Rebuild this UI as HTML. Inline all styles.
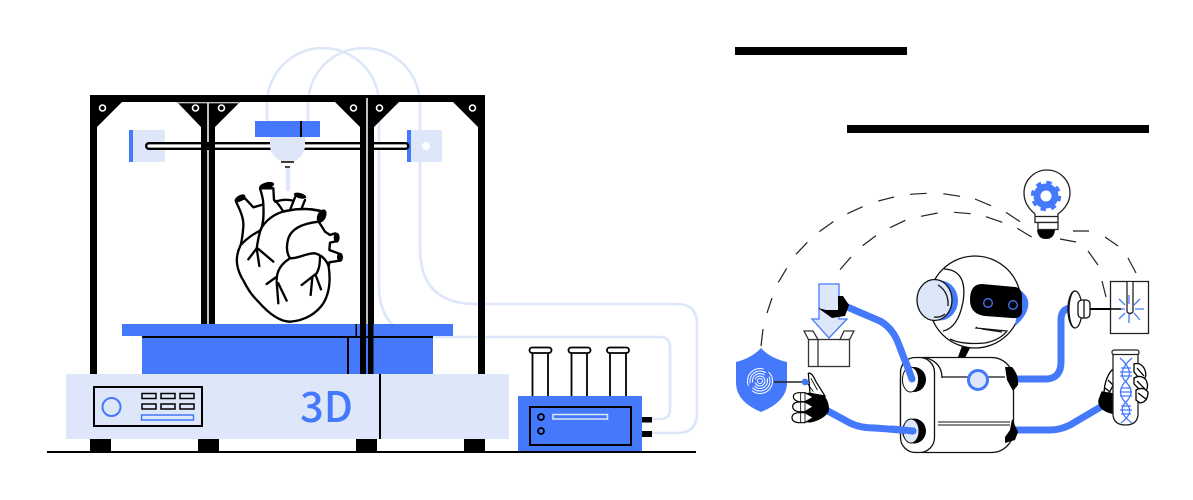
<!DOCTYPE html>
<html><head><meta charset="utf-8">
<style>html,body{margin:0;padding:0;background:#fff;width:1193px;height:500px;overflow:hidden}svg{display:block}</style>
</head><body>
<svg width="1193" height="500" viewBox="0 0 1193 500" xmlns="http://www.w3.org/2000/svg">
<defs>
<style>.l{fill:#dde7f9}.b{fill:#4479fb}.tube{fill:none;stroke:#dde7f9;stroke-width:2.6}.k{fill:none;stroke:#000;stroke-linecap:round;stroke-linejoin:round}</style>
</defs>
<rect width="1193" height="500" fill="#fff"/>
<!-- bars -->
<rect x="735" y="47" width="172" height="8" fill="#000"/>
<rect x="847" y="125" width="302" height="8" fill="#000"/>

<!-- tubes -->
<path class="tube" d="M267 121V104A56 56 0 0 1 379 104V285Q379 337 431 337H660Q670 337 670 347V409Q670 419 660 419H650"/>
<path class="tube" d="M308 121V104A56 56 0 0 1 420 104V248Q420 304 476 304H677Q697 304 697 324V413Q697 433 677 433H650"/>

<!-- frame -->
<path fill="#000" fill-rule="evenodd" d="M90 95H485V374H90ZM97 127V374H201V127L177 102H122ZM215 127V374H360V127L335 102H240ZM374 127V374H478V127L453 102H399Z"/>
<path d="M178 102.700H239" stroke="#fff" stroke-width="1"/>
<g fill="none" stroke="#fff" stroke-width="1.600">
<circle cx="102.500" cy="108" r="3"/><circle cx="195.500" cy="108" r="3"/><circle cx="221.500" cy="108" r="3"/><circle cx="353.500" cy="108" r="3"/><circle cx="379.500" cy="108" r="3"/><circle cx="472.500" cy="108" r="3"/>
</g>

<!-- rod & carriage -->
<rect x="129" y="130" width="36" height="32" class="l"/><rect x="129" y="130" width="4" height="32" class="b"/>
<rect x="407" y="130" width="35" height="32" class="l"/><rect x="407" y="130" width="4" height="32" class="b"/>
<circle cx="426" cy="146" r="4" fill="#fff"/>
<rect x="146.200" y="143.200" width="262" height="5.600" rx="2.800" fill="#fff" stroke="#000" stroke-width="2.400"/>
<rect x="201" y="142" width="14" height="8" fill="#000"/>
<rect x="360" y="142" width="14" height="8" fill="#000"/>
<path d="M208 103V142M208 150V374M367 98V374" stroke="#fff" stroke-width="1.500"/>
<rect x="255" y="121" width="65" height="16" class="b"/>
<rect x="300" y="121" width="2" height="16" fill="#000"/>
<path class="l" d="M270 137H305V145A17.500 17.500 0 0 1 270 145Z"/>
<path d="M281 162H294" stroke="#000" stroke-width="1.500"/><path d="M285 167H290" stroke="#000" stroke-width="1.500"/>
<path d="M288 170V189" stroke="#dde7f9" stroke-width="4.500" stroke-linecap="round"/>

<!-- heart -->
<g transform="translate(220 170) scale(.33333)">
<path fill="#fff" class="k" stroke-width="7" d="M48 95C60 120 72 145 70 170C68 195 66 210 62 225C42 265 50 300 72 335C85 360 95 375 115 395C150 435 180 455 210 455C255 452 290 430 310 400C328 370 332 330 326 290L328 277L358 272L355 250L328 240L330 218L348 214L345 190L330 195L315 185L296 155L305 125C270 115 235 115 205 122L190 125C178 105 170 95 162 90L160 55L120 55C128 80 130 90 130 103L100 112L75 85Z"/>
<path class="k" stroke-width="7" d="M62 225C85 200 105 190 120 182C135 150 165 130 200 122C240 115 270 115 300 122M296 155C250 160 215 175 205 205C198 230 200 250 210 265C240 265 260 248 285 250C305 255 320 270 326 290M210 265C185 280 170 300 170 330M130 103C132 140 130 165 120 185C112 215 112 225 110 235L85 268M110 235L118 288M113 235L160 275M170 320L140 342M170 335L175 400M175 340L200 392M300 258C300 290 295 300 290 310L245 345M277 322L272 375M288 318L303 358M165 95C190 88 200 88 220 92M225 82L210 120M255 90L245 115"/>
<g fill="#000"><ellipse cx="60" cy="85" rx="18" ry="9" transform="rotate(-30 60 85)"/><ellipse cx="140" cy="47" rx="23" ry="10" transform="rotate(-15 140 47)"/><ellipse cx="240" cy="77" rx="19" ry="8" transform="rotate(15 240 77)"/><ellipse cx="305" cy="138" rx="13" ry="21" transform="rotate(25 305 138)"/><ellipse cx="350" cy="203" rx="9" ry="15"/><ellipse cx="360" cy="262" rx="9" ry="14"/></g>
</g>

<!-- platform -->
<rect x="122" y="324" width="331" height="12" class="b"/>
<rect x="142" y="338" width="291" height="36" class="b"/>
<rect x="142" y="336" width="291" height="2" fill="#000"/>
<rect x="347" y="338" width="2" height="36" fill="#000"/>
<rect x="355.500" y="324" width="1.500" height="12" fill="#000"/>
<rect x="360" y="320" width="6" height="54" fill="#000"/><rect x="368" y="320" width="5.500" height="54" fill="#000"/>

<!-- base -->
<rect x="66" y="374" width="443" height="65" class="l"/>
<rect x="379" y="374" width="2" height="65" fill="#000"/>
<rect x="94" y="387" width="108" height="39" fill="none" stroke="#000" stroke-width="2"/>
<circle cx="111.500" cy="407" r="9" fill="none" stroke="#4479fb" stroke-width="2"/>
<g fill="none" stroke="#000" stroke-width="1.500">
<rect x="142" y="393.500" width="14" height="5"/><rect x="161" y="393.500" width="14" height="5"/><rect x="180" y="393.500" width="14" height="5"/>
<rect x="142" y="404" width="14" height="5"/><rect x="161" y="404" width="14" height="5"/><rect x="180" y="404" width="14" height="5"/>
</g>
<rect x="141.500" y="415" width="52" height="5" fill="none" stroke="#4479fb" stroke-width="1.500"/>
<text x="300" y="422" font-family="'Noto Sans CJK SC','Liberation Sans',sans-serif" font-size="42" font-weight="500" fill="#4479fb" textLength="53" lengthAdjust="spacingAndGlyphs">3D</text>
<rect x="90" y="439" width="21" height="12" fill="#000"/><rect x="198" y="439" width="21" height="12" fill="#000"/><rect x="356" y="439" width="21" height="12" fill="#000"/><rect x="464" y="439" width="21" height="12" fill="#000"/>
<rect x="47" y="451" width="649" height="2" fill="#000"/>

<!-- device -->
<g fill="#fff" stroke="#000" stroke-width="1.800">
<path d="M532.500 396V352H548V396"/><path d="M571.500 396V352H587V396"/><path d="M610 396V352H626V396"/>
<rect x="529.500" y="347.500" width="22" height="5.500" rx="2.700"/><rect x="568.500" y="347.500" width="22" height="5.500" rx="2.700"/><rect x="607" y="347.500" width="22" height="5.500" rx="2.700"/>
</g>
<rect x="518" y="396" width="124" height="55" class="b"/>
<rect x="530" y="407" width="101" height="38" fill="none" stroke="#000" stroke-width="2"/>
<g fill="none" stroke="#000" stroke-width="1.800"><circle cx="541" cy="417" r="3"/><circle cx="541" cy="431" r="3"/></g>
<rect x="553" y="414.500" width="54.500" height="4.500" fill="none" stroke="#dde7f9" stroke-width="1.500"/>
<rect x="642" y="417" width="10" height="5.500" fill="#000"/><rect x="642" y="431" width="10" height="6" fill="#000"/>

<!-- dashed arcs -->
<g transform="translate(750 175) scale(.33333)" stroke="#222" stroke-width="3.600" fill="none">
<path d="M85 322L110 280M138 238L172 202M208 170L250 140M292 116L338 95M385 78L432 66M480 58L530 55M580 56L630 64M675 72L723 92M768 112L810 140"/>
<path d="M270 284L303 246M338 212L378 182M420 158L466 136M513 124L563 114M612 112L662 116M708 125L757 142M802 160L845 186"/>
</g>
<path d="M761 346L763 329M767 313L772 298M1073 231L1089 231M1105 237L1118 246M1128 258L1136 273M1060 239L1076 242M1088 251L1098 265M1102 281L1106 297" stroke="#222" stroke-width="1.200" fill="none"/>

<!-- bulb -->
<path d="M1035 216V214Q1024 205 1024 193A23 23 0 0 1 1070 193Q1070 205 1058 214V216" fill="#fff" stroke="#222" stroke-width="1.300"/>
<rect x="1035" y="216.500" width="23" height="6" fill="#fff" stroke="#222" stroke-width="1.300"/>
<rect x="1038" y="222.500" width="20" height="7" fill="#fff" stroke="#222" stroke-width="1.300"/>
<path d="M1037 230H1055Q1054 239 1046 239T1037 230Z" fill="#000"/>
<circle cx="1046" cy="196" r="9" fill="none" stroke="#4479fb" stroke-width="7"/>
<circle cx="1046" cy="196" r="13" fill="none" stroke="#4479fb" stroke-width="4.500" stroke-dasharray="5.100 5.110"/>

<!-- box & arrow -->
<g stroke="#333" stroke-width="1.300" fill="#fff">
<rect x="808.500" y="339.500" width="41" height="27"/><path d="M818 340V366M804 331H813L818 339.500H808.500ZM844 331H854L849.500 339.500H840Z"/>
</g>
<path d="M819 284H839V319H847L829 338L812 319H819Z" fill="#dde7f9" stroke="#4479fb" stroke-width="1.300"/>

<!-- arms -->
<g fill="none" stroke="#4479fb" stroke-width="7">
<path d="M845 306L880 321Q893 328 899 345L912 379" stroke-linecap="round"/>
<path d="M826 410L850 423Q860 428 875 428L914 431" stroke-linecap="round"/>
<path d="M1010 379H1045Q1061 379 1061 362V320Q1061 308 1072 308"/>
<path d="M1010 430H1050Q1060 430 1070 425L1104 405"/>
</g>

<!-- top hand -->
<path d="M838 296L843 296L849 305L845 316L838 317L832 318L818 308L826 310L838 310Z" fill="#000"/>

<!-- shield -->
<path d="M761 348Q770 358 787 362V384Q786 402 761 412Q737 402 736 384V362Q752 358 761 348Z" class="b"/>
<g fill="none" stroke="#fff" stroke-width="1">
<circle cx="760" cy="381" r="2.500"/><circle cx="760" cy="381" r="5" stroke-dasharray="14 3"/><circle cx="760" cy="381" r="7.500" stroke-dasharray="18 4"/><circle cx="760" cy="381" r="10" stroke-dasharray="24 5"/><circle cx="760" cy="381" r="12.500" stroke-dasharray="28 6"/>
</g>
<path d="M774 382H804" stroke="#222" stroke-width="1.400"/>

<!-- left hand -->
<g transform="translate(730 340) scale(.33333)">
<path d="M235 100Q245 95 258 125L285 168L240 160Z" fill="#fff" stroke="#000" stroke-width="3.600"/>
<path d="M243 115L262 150M232 130L250 155" stroke="#000" stroke-width="2.500"/>
<path d="M240 158L285 170Q300 190 296 215Q280 240 240 248L215 245V160Z" fill="#000"/>
<g fill="#fff" stroke="#000" stroke-width="3.600">
<path d="M250 171L225 158H205Q190 160 190 170T205 185H225Z"/>
<path d="M250 200L225 186H205Q188 188 188 200T205 215H225Z"/>
<path d="M250 233L225 218H205Q186 220 186 233T205 248H225Z"/>
</g>
<path d="M212 158V185M225 158V185M212 187V215M225 187V215M212 218V248M225 218V248" stroke="#000" stroke-width="2.500"/>
<circle cx="225" cy="126" r="10" fill="#4479fb"/>
</g>

<!-- robot head -->
<g stroke="#111" stroke-width="1.300">
<path d="M958 357L962 346L970 348L965 358Z" fill="#000" stroke="none"/>
<circle cx="975" cy="302" r="46" fill="#fff"/>
<path d="M1020 290Q1030 297 1028 307T1015 326Z" class="b" stroke="none"/>
<path d="M982 284L1015 287Q1023 288 1022 300V312Q1021 319 1012 318L985 316Q970 314 970 300Q970 284 982 284Z" fill="#000" stroke="none"/>
<circle cx="988" cy="303" r="4.300" fill="none" stroke="#4479fb" stroke-width="1.300"/>
<circle cx="1013" cy="305" r="4.300" fill="none" stroke="#4479fb" stroke-width="1.300"/>
<path d="M944 269Q968 270 963 302Q958 328 943 331" fill="none"/>
<path d="M977 327L976 328L1007 331Q1000 340 985 343Q962 345 950 339" fill="none"/>
<path d="M982 329L1002 332" fill="none"/>
<ellipse cx="940" cy="300.500" rx="18" ry="20" class="b" stroke="none"/>
<ellipse cx="934.500" cy="300" rx="17.500" ry="20.500" fill="#dde7f9"/>
<path d="M938 285Q949 292 948 306M945 314Q940 318 934 317" fill="none"/>
</g>

<!-- robot body -->
<rect x="900.500" y="357.500" width="113" height="95" rx="22" fill="#fff" stroke="#111" stroke-width="1.300"/>
<rect x="900.500" y="357.500" width="34" height="95" rx="15" fill="#fff" stroke="#111" stroke-width="1.300"/>
<path d="M925 357.500Q942 362 942 378V377.500V377H1005" fill="none" stroke="#111" stroke-width="1.300"/>
<path d="M938 422H1010M938 425H1010" stroke="#111" stroke-width="1"/>
<path d="M1005 367L1012 367Q1019 375 1018 385L1013 391L1007 380Z" fill="#000"/>
<path d="M1012 419L1018 432L1015 440L1005 443V437L1010 430Z" fill="#000"/>
<circle cx="978" cy="380" r="9.500" fill="#dde7f9" stroke="#4479fb" stroke-width="3"/>
<ellipse cx="914" cy="379.500" rx="12" ry="12.500" fill="#000"/><ellipse cx="910.500" cy="379.500" rx="8" ry="12.500" fill="#fff" stroke="#111" stroke-width="1"/>
<ellipse cx="914" cy="431" rx="12" ry="12.500" fill="#000"/><ellipse cx="911" cy="431" rx="8" ry="12" fill="#dde7f9" stroke="#111" stroke-width="1"/>
<path d="M892 429L913 431" stroke="#4479fb" stroke-width="7" stroke-linecap="round"/>
<path d="M905 360L912 379" stroke="#4479fb" stroke-width="7" stroke-linecap="round"/>

<!-- emitter -->
<g fill="#fff" stroke="#111" stroke-width="1.300">
<ellipse cx="1075" cy="309.500" rx="7" ry="18.500"/>
<path d="M1075 291A6 18.500 0 0 0 1075 328" fill="none"/>
<rect x="1078" y="300" width="12" height="18" rx="4"/>
<path d="M1084 300V318" fill="none"/>
</g>
<path d="M1090 309H1121" stroke="#000" stroke-width="2"/>

<!-- chamber -->
<rect x="1110.500" y="281.500" width="38" height="52" fill="#fff" stroke="#222" stroke-width="1.300"/>
<path d="M1127 282V312Q1130 315 1133 312V282" fill="#fff" stroke="#222" stroke-width="1.300"/>
<path d="M1129 295V304M1129 314V323M1118 309H1125M1135 309H1144M1119 299L1125 305M1140 299L1134 305M1119 319L1125 313M1140 320L1134 313" stroke="#4479fb" stroke-width="1.300"/>
<path d="M1090 309H1121" stroke="#000" stroke-width="1.600"/>

<!-- test tube -->
<g stroke="#000" stroke-width="1.300">
<path d="M1114 368Q1105 376 1104 392L1108 395L1117 378Z" fill="#fff"/>
<path d="M1108 380L1114 386M1105 388L1110 392" fill="none"/>
<path d="M1102 392L1115 394V414L1108 412Q1098 408 1099 400Z" fill="#000"/>
<path d="M1113 353V415Q1114 425 1125.500 425T1138 415V353" fill="#fff" stroke="#222"/>
<rect x="1112" y="350" width="27" height="4.500" rx="2" fill="#fff" stroke="#222"/>
<path d="M1134 364Q1140 362 1144 368Q1147 374 1145 378L1139 378L1134 372Z" fill="#fff"/>
<path d="M1134 378Q1141 374 1146 380Q1149 386 1146 391L1140 390L1134 384Z" fill="#fff"/>
<path d="M1136 390Q1143 386 1148 392Q1148 402 1140 403L1136 400Z" fill="#fff"/>
<path d="M1137 368L1144 376M1137 381L1145 389M1138 393L1146 399" fill="none"/>
</g>
<g stroke="#4479fb" stroke-width="1.300" fill="none">
<path d="M1120 358Q1136 372 1125 382Q1116 392 1125 402Q1136 412 1121 423"/>
<path d="M1132 358Q1116 372 1126 382Q1136 392 1126 402Q1116 412 1132 423"/>
<path d="M1121 368H1131M1120 372H1132M1120 376H1132M1121 388H1131M1120 392H1132M1120 396H1132M1121 406H1131M1120 410H1132M1121 414H1131"/>
</g>
</svg>
</body></html>
